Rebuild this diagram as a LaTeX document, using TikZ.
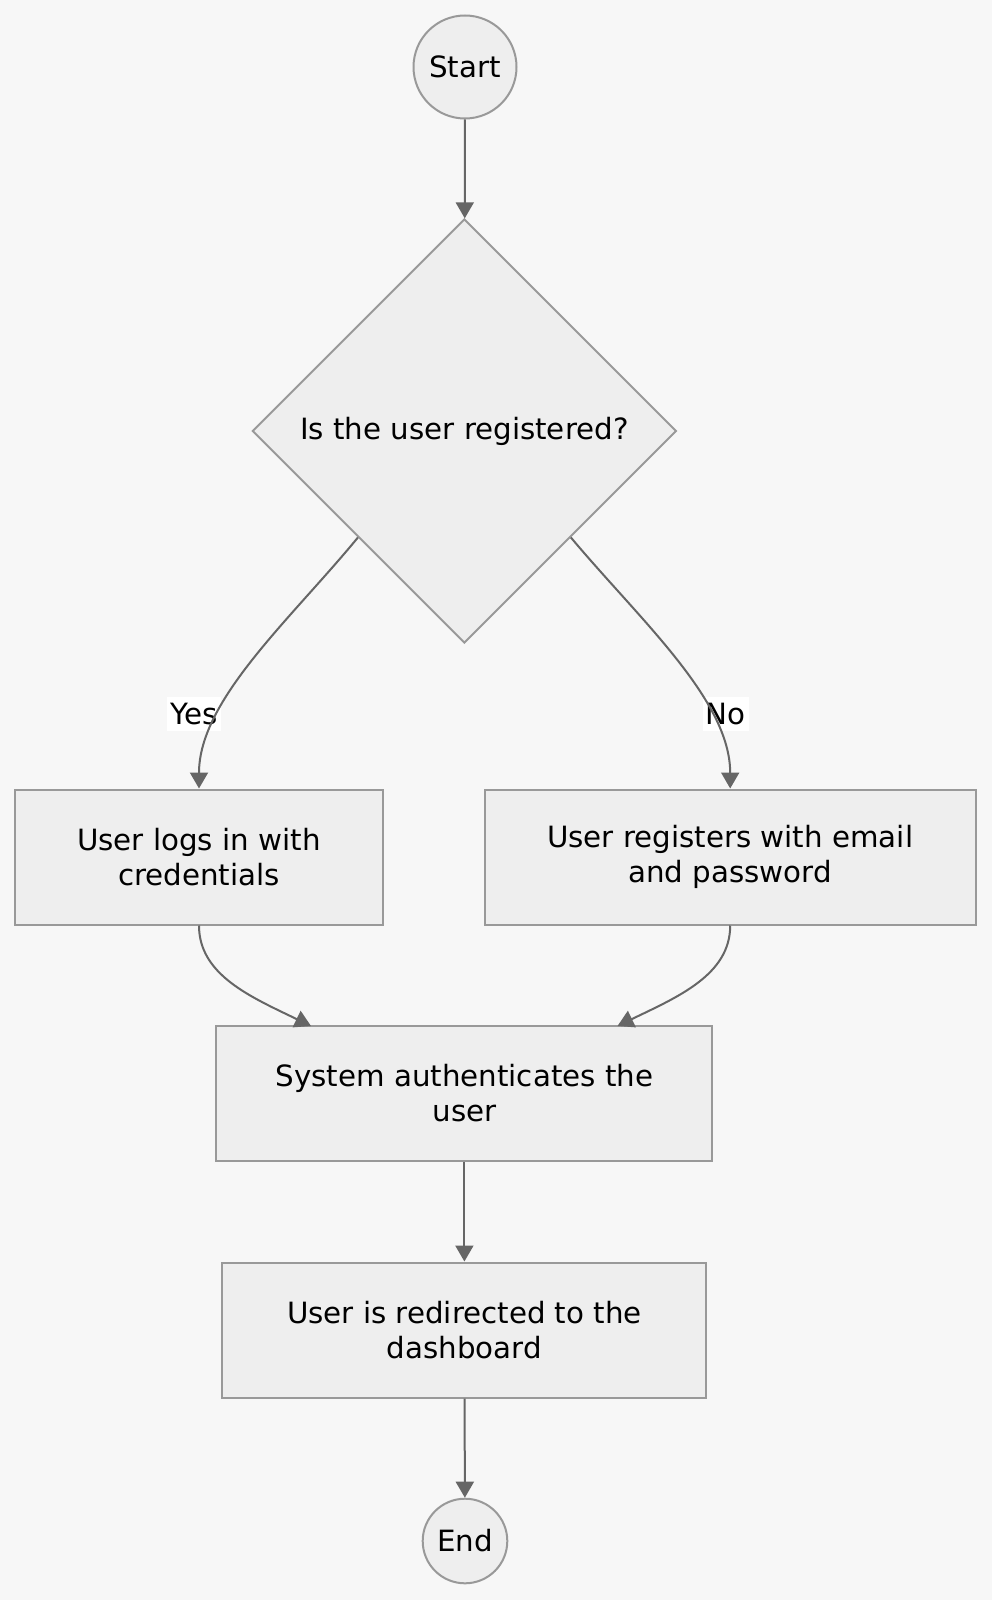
\documentclass[tikz,border=0pt]{standalone}
\usepackage{fontspec}
\setmainfont{DejaVu Sans}
\usepackage{xcolor}
\usetikzlibrary{shapes.geometric,arrows.meta,positioning}

\definecolor{bgcol}{HTML}{F7F7F7}
\definecolor{nodefill}{HTML}{EEEEEE}
\definecolor{nodeline}{HTML}{999999}
\definecolor{edgecol}{HTML}{666666}

\begin{document}
\begin{tikzpicture}[x=0.5pt, y=-0.5pt,
  every node/.style={font=\fontsize{14.65}{17.9}\selectfont},
  box/.style={draw=nodeline, fill=nodefill, line width=1pt, rectangle, align=center, minimum height=67.5pt},
  term/.style={draw=nodeline, fill=nodefill, line width=1pt, circle, inner sep=0pt},
  check/.style={draw=nodeline, fill=nodefill, line width=1pt, diamond, inner sep=0pt, minimum width=212pt, minimum height=212pt},
  flow/.style={draw=edgecol, line width=1pt, -{Triangle[length=8pt,width=9pt]}},
  lbl/.style={fill=white, inner xsep=1.5pt, inner ysep=3pt}]
  \useasboundingbox (0,0) rectangle (992,1600);
  \fill[bgcol] (0,0) rectangle (992,1600);

  \node[term, minimum size=51.5pt] (start) at (465,67) {Start};
  \node[check] (registered) at (464.4,431) {Is the user registered?};
  \node[box, minimum width=183.7pt] (login) at (199,857) {User logs in with\\credentials};
  \node[box, minimum width=245.5pt] (signup) at (730.2,857) {User registers with email\\and password};
  \node[box, minimum width=248pt] (auth) at (464.4,1093) {System authenticates the\\user};
  \node[box, minimum width=242pt] (dash) at (464.4,1330) {User is redirected to the\\dashboard};
  \node[term, minimum size=42.3pt] (end) at (465,1541) {End};

  \node[lbl] (yes) at (194,714) {Yes};
  \node[lbl] (no) at (725.6,714) {No};

  \draw[flow] (start) -- (registered);
  \draw[flow] (registered.south west) .. controls (290,620) and (199,700) .. (login.north);
  \draw[flow] (registered.south east) .. controls (640,620) and (730.2,700) .. (signup.north);
  \draw[flow] (login.south) .. controls (199,975) and (251,997) .. (311,1026);
  \draw[flow] (signup.south) .. controls (730.2,975) and (677.5,997) .. (617.5,1026);
  \draw[flow] (auth) -- (dash);
  \draw[flow] (dash) -- (end);
\end{tikzpicture}
\end{document}
